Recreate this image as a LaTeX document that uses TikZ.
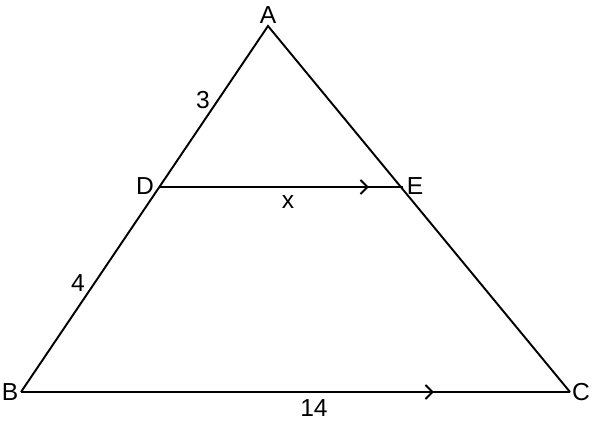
\documentclass[tikz,border=0pt]{standalone}
\usepackage{fontspec}
\setmainfont{Liberation Sans}
\usetikzlibrary{arrows.meta,calc}
\begin{document}
\begin{tikzpicture}[x=0.02cm,y=-0.02cm,
    side/.style={line width=1.1pt},
    lbl/.style={font=\fontsize{14}{16}\selectfont,inner sep=0pt}]
      \useasboundingbox (0,0) rectangle (596,423);
      % vertices of the triangle
      \coordinate (A) at (268,26);
      \coordinate (B) at (21,392);
      \coordinate (C) at (570,392);
      \coordinate (D) at (159,187);
      \coordinate (E) at (403,187);
      \draw[side,line join=miter] (B) -- (A) -- (C);
      % parallel segments
      \draw[side,-{Straight Barb[length=4pt,width=8pt]}] (D) -- ($(D)!0.86!(E)$);
      \draw[side] ($(D)!0.85!(E)$) -- (E);
      \draw[side,-{Straight Barb[length=4pt,width=8pt]}] (B) -- ($(B)!0.752!(C)$);
      \draw[side] ($(B)!0.74!(C)$) -- (C);
      \node[lbl] (lA) at (268,15) {A};
      \node[lbl] (lB) at (10,392) {B};
      \node[lbl] (lC) at (581,392) {C};
      \node[lbl] (lD) at (145,186) {D};
      \node[lbl] (lE) at (415,186) {E};
      \node[lbl] (l3) at (203,100) {3};
      \node[lbl] (l4) at (78,283) {4};
      \node[lbl] (lx) at (288,202) {x};
      \node[lbl] (l14) at (314,408) {14};
    \end{tikzpicture}
\end{document}
